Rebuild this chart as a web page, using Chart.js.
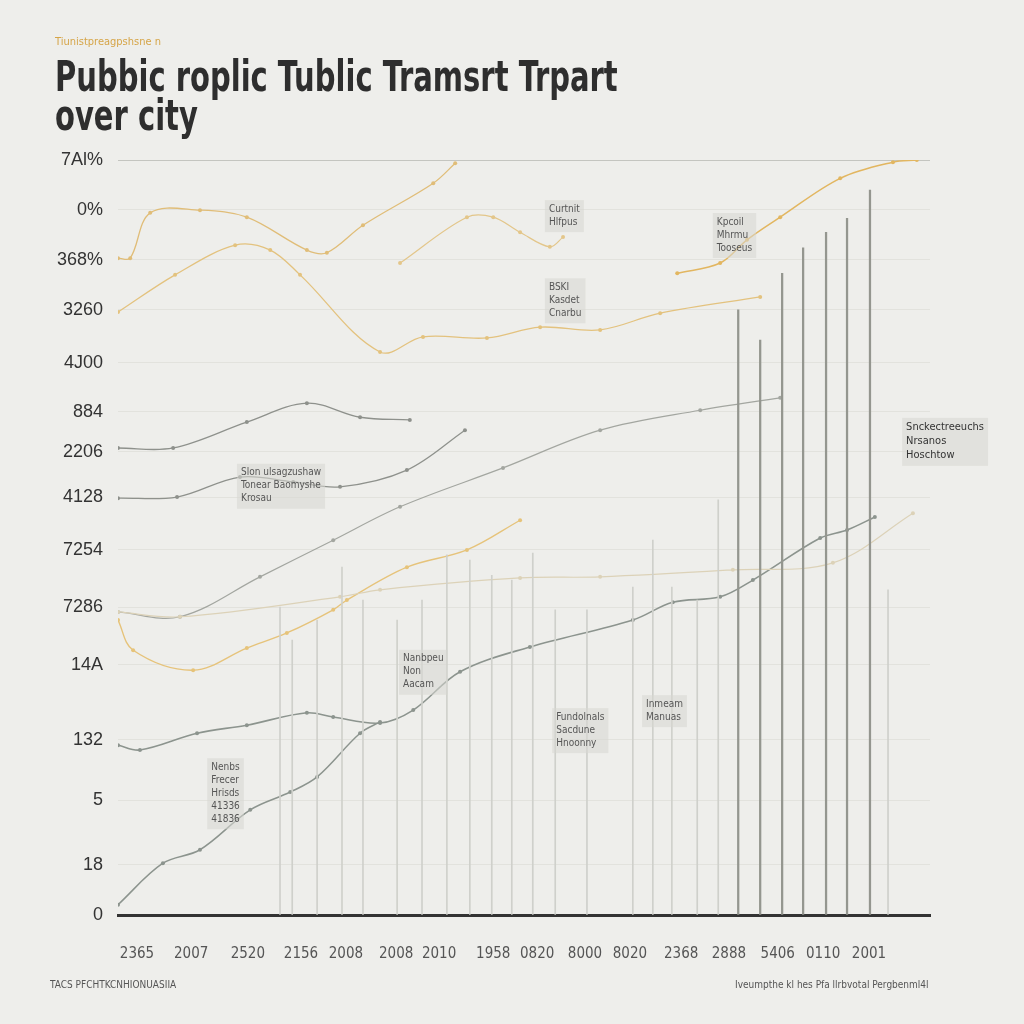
<!DOCTYPE html>
<html>
<head>
<meta charset="utf-8">
<script src="https://cdn.jsdelivr.net/npm/chart.js@4/dist/chart.umd.min.js"></script>
<style>
  html, body { margin: 0; padding: 0; background: #eeeeeb; }
  #wrap { position: relative; width: 1024px; height: 1024px; overflow: hidden; }
  #chart { position: absolute; left: 0; top: 0; }
  .sub { position: absolute; left: 55px; top: 35px; font: 11px "DejaVu Sans Condensed", sans-serif; color: #d6a548; white-space: nowrap; }
  .title { position: absolute; left: 55px; top: 57px; font: 600 43px/39px "DejaVu Sans Condensed", sans-serif; color: #2e2e2e; white-space: nowrap; transform: scaleX(0.75); transform-origin: left top; }
  .foot { position: absolute; top: 979px; font: 10px "DejaVu Sans Condensed", sans-serif; color: #555; white-space: nowrap; }
</style>
</head>
<body>
<div id="wrap">
  <canvas id="chart" width="1024" height="1024"></canvas>
  <div class="sub">Tiunistpreagpshsne n</div>
  <div class="title">Pubbic roplic Tublic Tramsrt Trpart<br>over city</div>
  <div class="foot" style="left:50px">TACS PFCHTKCNHIONUASIIA</div>
  <div class="foot" style="left:735px">Iveumpthe kl hes Pfa llrbvotal Pergbenml4l</div>
</div>
<script>
// tick labels (bottom to top) and where they sit on the value axis
const yLabels = ['0', '18', '5', '132', '14A', '7286', '7254', '4128', '2206', '884', '4J00', '3260', '368%', '0%', '7Al%'];
const yTickValues = [0, 0.93, 2.13, 3.25, 4.64, 5.71, 6.77, 7.75, 8.59, 9.33, 10.24, 11.22, 12.15, 13.08, 14];
const xLabels = ['2365', '2007', '2520', '2156', '2008', '2008', '2010', '1958', '0820', '8000', '8020', '2368', '2888', '5406', '0110', '2001'];
const xTickValues = [0, 1.11, 2.27, 3.36, 4.28, 5.31, 6.19, 7.30, 8.20, 9.18, 10.10, 11.15, 12.13, 13.13, 14.06, 15.0];

// orange series
const routeAx = [-0.39, 0.78, 2.01, 2.73, 3.34, 4.98, 5.86, 7.17, 8.26, 9.49, 10.72, 12.77];
const routeAy = [11.18, 11.87, 12.42, 12.33, 11.87, 10.44, 10.72, 10.70, 10.90, 10.85, 11.16, 11.46];
const routeBx = [-0.39, -0.14, 0.27, 1.29, 2.25, 3.48, 3.89, 4.63, 6.07, 6.52];
const routeBy = [12.18, 12.18, 13.02, 13.07, 12.94, 12.33, 12.28, 12.79, 13.57, 13.94];
const routeCx = [5.39, 6.76, 7.30, 7.85, 8.46, 8.73];
const routeCy = [12.09, 12.94, 12.94, 12.66, 12.39, 12.57];
const routeDx = [11.07, 11.95, 12.5, 13.18, 14.41, 15.49, 15.98];
const routeDy = [11.90, 12.09, 12.52, 12.94, 13.66, 13.96, 14.0];
const routeEx = [-0.39, -0.08, 1.15, 2.25, 3.07, 4.02, 4.30, 5.53, 6.76, 7.85];
const routeEy = [5.47, 4.91, 4.54, 4.95, 5.23, 5.66, 5.84, 6.45, 6.77, 7.32];
const routeFx = [-0.39, 0.88, 4.16, 4.98, 7.85, 9.49, 12.21, 14.26, 15.90];
const routeFy = [5.62, 5.53, 5.90, 6.03, 6.25, 6.27, 6.40, 6.53, 7.45];

// grey series
const lineGx = [-0.39, 0.74, 2.25, 3.48, 4.57, 5.59];
const lineGy = [8.66, 8.66, 9.14, 9.49, 9.23, 9.18];
const lineHx = [-0.39, 0.82, 2.11, 3.20, 4.16, 5.53, 6.72];
const lineHy = [7.73, 7.75, 8.12, 8.03, 7.94, 8.25, 8.99];
const lineIx = [-0.39, 0.88, 2.52, 4.02, 5.39, 7.50, 9.49, 11.54, 13.18];
const lineIy = [5.62, 5.53, 6.27, 6.95, 7.57, 8.29, 8.99, 9.36, 9.59];
const lineJx = [-0.39, 0.06, 1.23, 2.25, 3.48, 4.02, 4.98, 5.66, 6.62, 8.05, 10.16, 10.98, 11.95, 12.62, 14.0, 14.55, 15.12];
const lineJy = [3.15, 3.06, 3.37, 3.52, 3.75, 3.67, 3.56, 3.80, 4.51, 4.97, 5.47, 5.80, 5.90, 6.21, 6.99, 7.14, 7.38];
const lineKx = [-0.39, 0.53, 1.29, 2.32, 3.14, 3.69, 4.57, 4.98];
const lineKy = [0.19, 0.96, 1.21, 1.95, 2.28, 2.56, 3.37, 3.58];

// vertical stems
const stemX = [12.32, 12.77, 13.22, 13.65, 14.12, 14.55, 15.02];
const stemY = [11.22, 10.66, 11.90, 12.37, 12.66, 12.92, 13.44];
const faintStemX = [2.93, 3.18, 3.69, 4.20, 4.63, 5.33, 5.84, 6.35, 6.82, 7.27, 7.68, 8.11, 8.57, 9.22, 10.16, 10.57, 10.96, 11.48, 11.91, 15.39];
const faintStemY = [5.71, 5.10, 5.47, 6.45, 5.84, 5.47, 5.84, 6.68, 6.58, 6.30, 6.21, 6.71, 5.66, 5.66, 6.08, 6.95, 6.08, 5.84, 7.70, 6.03];

// callout notes
const notes = [
  { x: 8.42, y: 13.22, lines: ['Curtnit', 'Hlfpus'] },
  { x: 11.86, y: 12.98, lines: ['Kpcoil', 'Mhrmu', 'Tooseus'] },
  { x: 8.42, y: 11.77, lines: ['BSKI', 'Kasdet', 'Cnarbu'] },
  { x: 15.74, y: 9.18, lines: ['Snckectreeuchs', 'Nrsanos', 'Hoschtow'], big: true },
  { x: 2.11, y: 8.33, lines: ['Slon ulsagzushaw', 'Tonear Baomyshe', 'Krosau'] },
  { x: 5.43, y: 4.88, lines: ['Nanbpeu', 'Non', 'Aacam'] },
  { x: 8.57, y: 3.80, lines: ['Fundolnals', 'Sacdune', 'Hnoonny'] },
  { x: 10.41, y: 4.04, lines: ['Inmeam', 'Manuas'] },
  { x: 1.50, y: 2.87, lines: ['Nenbs', 'Frecer', 'Hrisds', '41336', '41836'] }
];

const zip = (xs, ys) => xs.map((x, i) => ({ x: x, y: ys[i] }));

function lineSet(xs, ys, color, width) {
    return {
        type: 'line',
        data: zip(xs, ys),
        borderColor: color,
        backgroundColor: color,
        borderWidth: width,
        pointRadius: 2,
        pointBorderWidth: 0,
        tension: 0.35,
        fill: false
    };
}

const notesPlugin = {
    id: 'notes',
    afterDatasetsDraw(chart) {
        const c = chart.ctx;
        const xs = chart.scales.x, ys = chart.scales.y;
        c.save();
        notes.forEach(n => {
            const px = xs.getPixelForValue(n.x);
            const py = ys.getPixelForValue(n.y);
            const size = n.big ? 11 : 10;
            c.font = size + 'px "DejaVu Sans Condensed", sans-serif';
            let w = 0;
            n.lines.forEach(t => { w = Math.max(w, c.measureText(t).width); });
            const h = n.lines.length * (size + 3) + 6;
            c.fillStyle = 'rgba(215,215,210,0.55)';
            c.fillRect(px - 3, py - 2, w + 8, h);
            c.fillStyle = n.big ? '#333' : '#555';
            c.textBaseline = 'top';
            n.lines.forEach((t, i) => c.fillText(t, px + 1, py + 2 + i * (size + 3)));
        });
        c.restore();
    }
};

new Chart(document.getElementById('chart').getContext('2d'), {
    data: {
        datasets: [
            { type: 'bar', data: zip(faintStemX, faintStemY), backgroundColor: '#cfd0cb', barThickness: 1, grouped: false },
            { type: 'bar', data: zip(stemX, stemY), backgroundColor: '#94968f', barThickness: 1.6, grouped: false },
            lineSet(routeFx, routeFy, '#dcd2b8', 1.2),
            lineSet(routeAx, routeAy, '#e3c27e', 1.3),
            lineSet(routeBx, routeBy, '#e0bd78', 1.3),
            lineSet(routeCx, routeCy, '#e3c68a', 1.2),
            lineSet(routeDx, routeDy, '#e2b660', 1.5),
            lineSet(routeEx, routeEy, '#e6c37a', 1.4),
            lineSet(lineGx, lineGy, '#8e918c', 1.3),
            lineSet(lineHx, lineHy, '#8e918c', 1.3),
            lineSet(lineIx, lineIy, '#a3a6a0', 1.2),
            lineSet(lineJx, lineJy, '#8c948e', 1.6),
            lineSet(lineKx, lineKy, '#8c948e', 1.5)
        ]
    },
    options: {
        responsive: false,
        animation: false,
        layout: { padding: { top: 160, right: 94, bottom: 0, left: 0 } },
        plugins: { legend: { display: false }, tooltip: { enabled: false } },
        scales: {
            x: {
                type: 'linear',
                offset: false,
                min: -0.39,
                max: 16.25,
                afterFit: s => { s.height = 109; },
                afterBuildTicks: s => { s.ticks = xTickValues.map(v => ({ value: v })); },
                grid: { display: false },
                border: { display: true, color: '#333', width: 3 },
                ticks: {
                    autoSkip: false,
                    maxRotation: 0,
                    padding: 22,
                    color: '#555',
                    font: { family: 'DejaVu Sans Condensed', size: 15 },
                    callback: (v, i) => xLabels[i]
                }
            },
            y: {
                type: 'linear',
                min: 0,
                max: 14,
                afterFit: s => { s.width = 118; },
                afterBuildTicks: s => { s.ticks = yTickValues.map(v => ({ value: v })); },
                grid: {
                    drawTicks: false,
                    color: ctx => ctx.tick && ctx.tick.value === 14 ? '#c4c5c0' : '#e2e2dd'
                },
                border: { display: false },
                ticks: {
                    padding: 15,
                    color: '#333',
                    font: { family: 'Liberation Sans', size: 18 },
                    callback: (v, i) => yLabels[i]
                }
            }
        }
    },
    plugins: [notesPlugin]
});
</script>
</body>
</html>
